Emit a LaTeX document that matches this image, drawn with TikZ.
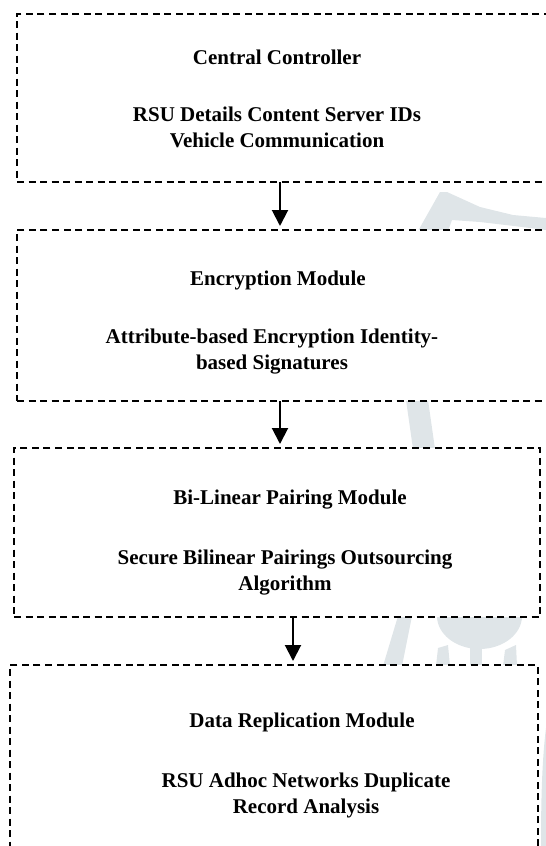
\documentclass[tikz,border=0pt]{standalone}
\usepackage{fontspec}
\setmainfont{Liberation Serif}
\usetikzlibrary{arrows.meta}
\definecolor{wmgray}{RGB}{223,229,232}
\tikzset{
  modbox/.style={draw, line width=2pt, dash pattern=on 7pt off 4.5pt, fill=white,
    rectangle, inner sep=0pt, outer sep=0pt, anchor=north west},
  boxtext/.style={font=\bfseries\fontsize{21}{26}\selectfont, align=center,
    inner sep=0pt, anchor=base},
  flow/.style={line width=2pt, -{Triangle[length=16pt,width=16pt]}, shorten >=4pt},
  wmark/.style={fill=wmgray, draw=none}
}
\begin{document}
\begin{tikzpicture}[x=1pt,y=-1pt]
\useasboundingbox (0,0) rectangle (546,846);
\clip (0,0) rectangle (546,846);

% faint logo in the background
\path[wmark] (418,231) -- (440,192) -- (447,192) -- (480,207) -- (513,215) -- (546,218)
  -- (546,230) -- (514,226) -- (480,222) -- (452,220) -- (448,231) -- cycle;
\path[wmark] (406,400) -- (428,400) -- (435,449) -- (413,449) -- cycle;
\path[wmark] (398,616) -- (412,616) -- (402,666) -- (383,666) -- cycle;
\path[wmark] (437,616) -- (522,616) arc[start angle=0, end angle=180, x radius=42.5, y radius=33] -- cycle;
\path[wmark] (470,640) rectangle (482,666);
\path[wmark] (438,648) -- (448,645) -- (450,666) -- (436,666) -- cycle;
\path[wmark] (505,650) -- (516,645) -- (517,666) -- (503,666) -- cycle;
\path[wmark] (541,846) .. controls (541,800) and (542,760) .. (546,728) -- (546,846) -- cycle;

% module boxes
\node[modbox, minimum width=545pt, minimum height=168pt] (b1) at (17,14) {};
\node[modbox, minimum width=545pt, minimum height=171pt] (b2) at (17,230) {};
\node[modbox, minimum width=526pt, minimum height=169pt] (b3) at (14,448) {};
\node[modbox, minimum width=528pt, minimum height=205pt] (b4) at (10,665) {};

% box contents (base anchor = baseline of the last line)
\node[boxtext] (t1) at (277,64) {Central Controller};
\node[boxtext] (d1) at (277,147) {RSU Details Content Server IDs\\Vehicle Communication};
\node[boxtext] (t2) at (278,285) {Encryption Module};
\node[boxtext] (d2) at (272,369) {Attribute-based Encryption Identity-\\based Signatures};
\node[boxtext] (t3) at (290,504) {Bi-Linear Pairing Module};
\node[boxtext] (d3) at (285,590) {Secure Bilinear Pairings Outsourcing\\Algorithm};
\node[boxtext] (t4) at (302,727) {Data Replication Module};
\node[boxtext] (d4) at (306,813) {RSU Adhoc Networks Duplicate\\Record Analysis};

% flow between modules
\draw[flow] (b1.south -| 280,0) -- (b2.north -| 280,0);
\draw[flow] (b2.south -| 280,0) -- (b3.north -| 280,0);
\draw[flow] (b3.south -| 293,0) -- (b4.north -| 293,0);
\end{tikzpicture}
\end{document}
